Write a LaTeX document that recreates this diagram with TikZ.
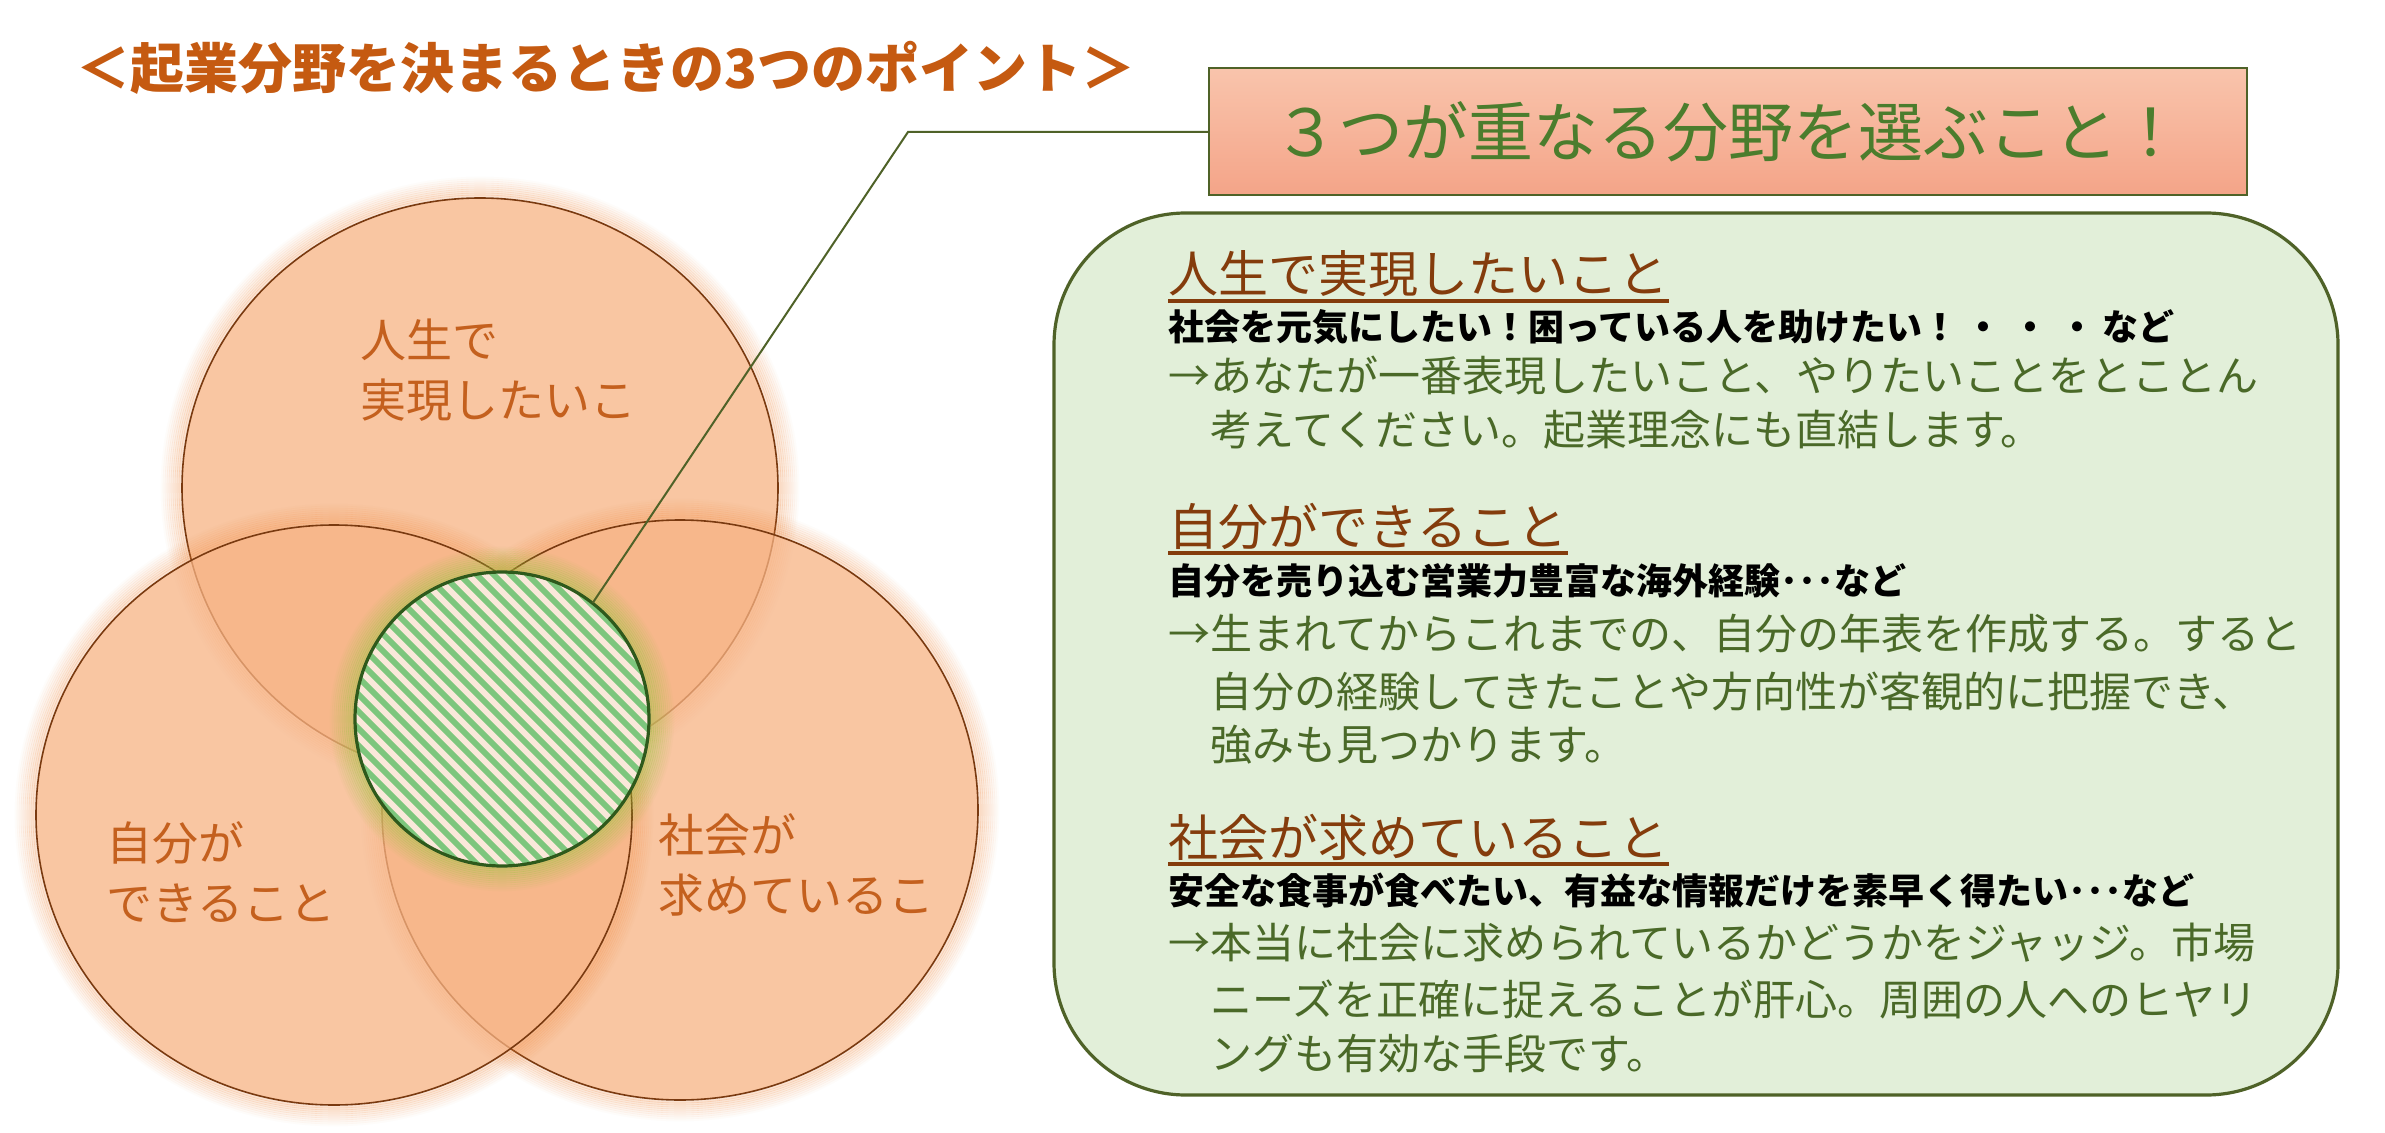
\documentclass[tikz,border=0pt]{standalone}
\usepackage{fontspec}
\setmainfont{Noto Sans CJK JP}
\definecolor{titleor}{HTML}{C55A11}
\definecolor{circfill}{RGB}{247,179,132}
\definecolor{circline}{HTML}{7A3A10}
\definecolor{glowor}{RGB}{240,135,60}
\definecolor{hatchfill}{RGB}{250,232,218}
\definecolor{stripe}{RGB}{125,198,125}
\definecolor{hatchline}{HTML}{2E5A1C}
\definecolor{glowgr}{RGB}{150,195,60}
\definecolor{boxfill}{HTML}{E2EFD9}
\definecolor{boxline}{HTML}{4F6228}
\definecolor{headbr}{HTML}{843C0C}
\definecolor{txtgr}{RGB}{74,105,40}
\definecolor{ttlgr}{RGB}{75,125,45}
\definecolor{salmtop}{RGB}{249,196,172}
\definecolor{salmbot}{RGB}{244,164,136}
\definecolor{lbl}{RGB}{196,96,30}
\tikzset{
  heading/.style={anchor=west, inner sep=0pt, text=headbr, font=\fontsize{25pt}{25pt}\selectfont},
  blackline/.style={anchor=west, inner sep=0pt, text=black, font=\fontsize{18pt}{18pt}\selectfont\bfseries},
  greenline/.style={anchor=west, inner sep=0pt, text=txtgr, font=\fontsize{21pt}{21pt}\selectfont},
  circlabel/.style={anchor=west, inner sep=0pt, text=lbl, align=left, font=\fontsize{23pt}{30pt}\selectfont},
  uline/.style={headbr, line width=2pt},
  venn/.style={fill=circfill, fill opacity=0.75, draw=circline, line width=0.8pt, draw opacity=1},
}
\begin{document}
\begin{tikzpicture}[x=0.5pt,y=-0.5pt]
\useasboundingbox[fill=white] (0,0) rectangle (2385,1133);

% title
\node[anchor=west, inner sep=0pt, text=titleor, font=\fontsize{27pt}{27pt}\selectfont\bfseries] (title) at (76,68) {＜起業分野を決まるときの3つのポイント＞};

% venn circles: top, right, left
\coordinate (ctop) at (480,488);
\coordinate (cright) at (680,810);
\coordinate (cleft) at (334,815);
\foreach \c in {ctop,cright,cleft}{
  \foreach \k [evaluate=\k as \op using 0.26*(1-\k/11)] in {1,...,10}
    \draw[glowor, opacity=\op, line width=1.3pt] (\c) ellipse [x radius={149pt+\k*1.0pt}, y radius={145pt+\k*1.0pt}];
  \path[venn] (\c) ellipse [x radius=149pt, y radius=145pt];
}

% core
\coordinate (ccore) at (502,719);
\foreach \k [evaluate=\k as \op using 0.4*(1-\k/13)] in {1,...,12}
  \draw[glowgr, opacity=\op, line width=1.3pt] (ccore) circle [radius={73.5pt+\k*1.0pt}];
\node[circle, minimum size=147pt, inner sep=0pt, fill=hatchfill] (core) at (ccore) {};
\begin{scope}
  \clip (ccore) circle [radius=73.5pt];
  \foreach \i in {-340,-323,...,340}
    \draw[stripe, line width=2.9pt] ({502+\i-170},{719-170}) -- ({502+\i+170},{719+170});
\end{scope}
\draw[hatchline, line width=1.6pt] (ccore) circle [radius=73.5pt];

% labels in circles
\node[circlabel] (l1) at (360,370) {人生で\\実現したいこ};
\node[circlabel] (l2) at (106,872) {自分が\\できること};
\node[circlabel] (l3) at (658,865) {社会が\\求めているこ};

% title box
\node[draw=boxline, line width=1pt, top color=salmtop, bottom color=salmbot,
      minimum width=519pt, minimum height=63.5pt, inner sep=0pt,
      text=ttlgr, font=\fontsize{32.5pt}{32.5pt}\selectfont] (box) at (1728,132) {３つが重なる分野を選ぶこと！};

% callout
\coordinate (kink) at (908,132);
\draw[boxline, line width=1pt] (core.52) -- (kink) -- (box.west);

% green panel
\node[draw=boxline, line width=1.6pt, fill=boxfill, rounded corners=66pt,
      minimum width=642pt, minimum height=441pt, inner sep=0pt] (panel) at (1696,654) {};

\node[heading] (h1) at (1168,274) {人生で実現したいこと};
\draw[uline] ([yshift=-1.5pt]h1.south west) -- ([yshift=-1.5pt]h1.south east);
\node[blackline] (b1) at (1168,327) {社会を元気にしたい！困っている人を助けたい！\hspace{0.2em}・\hspace{0.3em}・\hspace{0.3em}・\hspace{0.2em}など};
\node[greenline] (g1a) at (1168,376) {→あなたが一番表現したいこと、やりたいことをとことん};
\node[greenline] (g1b) at (1210,430) {考えてください。起業理念にも直結します。};

\node[heading] (h2) at (1168,526) {自分ができること};
\draw[uline] ([yshift=-1.5pt]h2.south west) -- ([yshift=-1.5pt]h2.south east);
\node[blackline] (b2) at (1168,581) {自分を売り込む営業力豊富な海外経験･･･など};
\node[greenline] (g2a) at (1168,634) {→生まれてからこれまでの、自分の年表を作成する。すると};
\node[greenline] (g2b) at (1210,692) {自分の経験してきたことや方向性が客観的に把握でき、};
\node[greenline] (g2c) at (1210,745) {強みも見つかります。};

\node[heading] (h3) at (1168,837) {社会が求めていること};
\draw[uline] ([yshift=-1.5pt]h3.south west) -- ([yshift=-1.5pt]h3.south east);
\node[blackline] (b3) at (1168,890) {安全な食事が食べたい、有益な情報だけを素早く得たい･･･など};
\node[greenline] (g3a) at (1168,943) {→本当に社会に求められているかどうかをジャッジ。市場};
\node[greenline] (g3b) at (1210,999) {ニーズを正確に捉えることが肝心。周囲の人へのヒヤリ};
\node[greenline] (g3c) at (1210,1054) {ングも有効な手段です。};
\end{tikzpicture}
\end{document}
